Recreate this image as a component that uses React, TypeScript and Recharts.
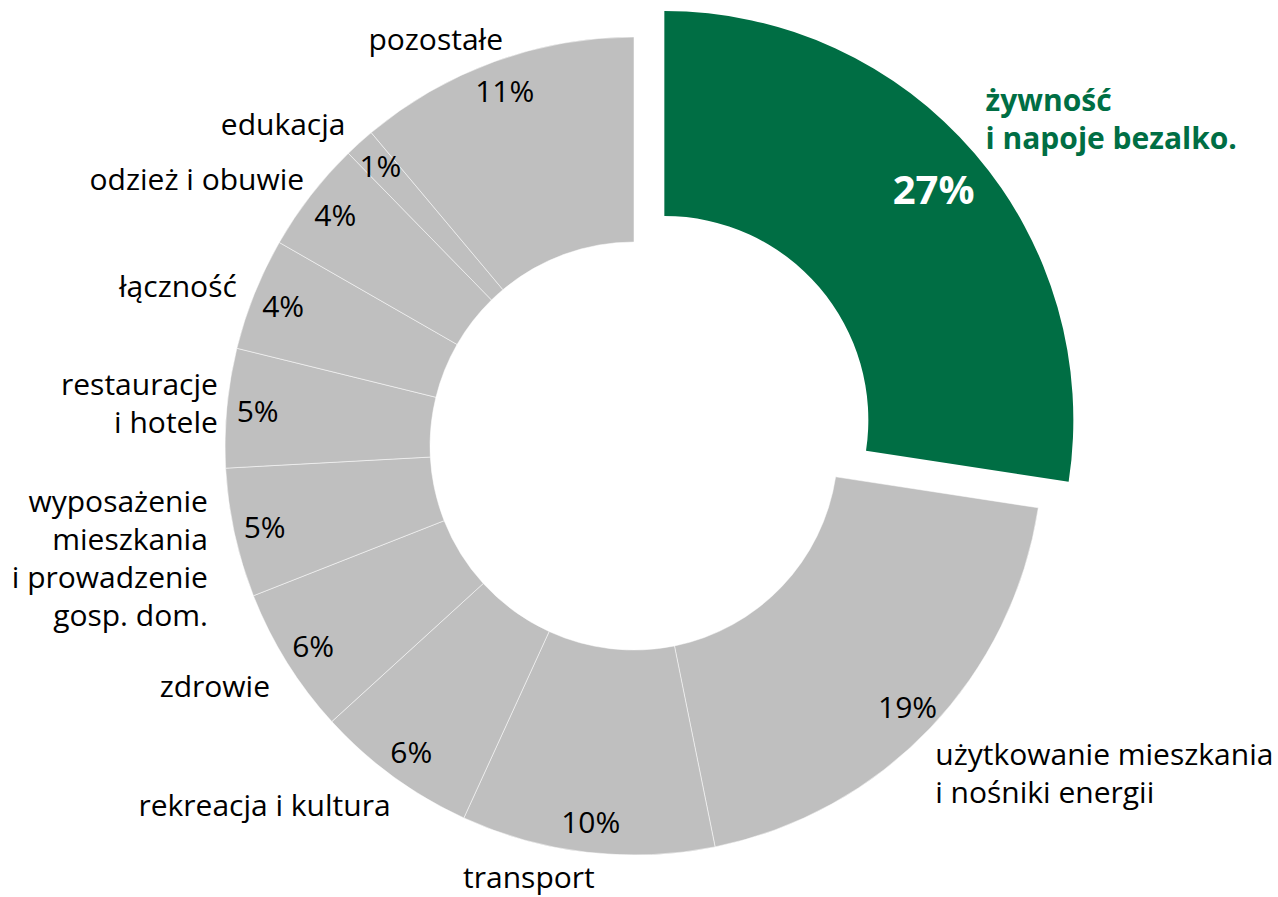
import { PieChart, Pie, Cell } from 'recharts';

// struktura wydatków gospodarstw domowych (udział w %)
const categories = [
  'żywność\ni napoje bezalko.',
  'użytkowanie mieszkania\ni nośniki energii',
  'transport',
  'rekreacja i kultura',
  'zdrowie',
  'wyposażenie\nmieszkania\ni prowadzenie\ngosp. dom.',
  'restauracje\ni hotele',
  'łączność',
  'odzież i obuwie',
  'edukacja',
  'pozostałe',
];
const shares = [27.4, 19.4, 10.0, 6.4, 5.8, 5.1, 4.7, 4.45, 4.4, 1.2, 11.1];

const data = categories.map((name, i) => ({ name, value: shares[i] }));

const GRAY = '#BFBFBF';
const GREEN = '#006E44';
const FONT = '"Open Sans", "Noto Sans", sans-serif';
const RADIAN = Math.PI / 180;

const CX = 634;
const CY = 446;
const INNER = 204;
const OUTER = 409;
const EXPLODE = 40;

// hand nudges for the outside category labels (placed by hand in the source)
const labelNudge: [number, number][] = [
  [-5, -21], [-10, 30], [10, 3], [10, 11], [1, 12], [-6, 20],
  [12, -3], [2, -1], [10, -4], [0, -4], [16, -3],
];

const total = shares.reduce((a, b) => a + b, 0);
const firstMid = 90 - (shares[0] / total) * 180;
const offX = EXPLODE * Math.cos(firstMid * RADIAN);
const offY = -EXPLODE * Math.sin(firstMid * RADIAN);

function polar(cx: number, cy: number, r: number, angle: number) {
  return { x: cx + r * Math.cos(-angle * RADIAN), y: cy + r * Math.sin(-angle * RADIAN) };
}

function makeLabel(highlight: boolean) {
  return (props: any) => {
    const { cx, cy, midAngle, index, value } = props;
    if ((index === 0) !== highlight) return <g key={`l-${index}`} />;
    const pct = polar(cx, cy, highlight ? 355 : 378, midAngle);
    const base = polar(cx, cy, 430, midAngle);
    const [nx, ny] = labelNudge[index];
    const anchor = base.x >= cx ? 'start' : 'end';
    const lines = categories[index].split('\n');
    const lh = 37.8;
    return (
      <g key={`l-${index}`} fontFamily={FONT}>
        <text
          x={pct.x}
          y={pct.y}
          textAnchor="middle"
          dominantBaseline="central"
          fontSize={highlight ? 40 : 30}
          fontWeight={highlight ? 700 : 400}
          fill={highlight ? '#fff' : '#000'}
        >
          {Math.round(value)}%
        </text>
        {lines.map((line, i) => (
          <text
            key={i}
            x={base.x + nx}
            y={base.y + ny + (i - (lines.length - 1) / 2) * lh}
            textAnchor={anchor}
            dominantBaseline="central"
            fontSize={30}
            fontWeight={highlight ? 700 : 400}
            fill={highlight ? GREEN : '#000'}
          >
            {line}
          </text>
        ))}
      </g>
    );
  };
}

export default function App() {
  return (
    <>
      <style>{'body { margin: 0; }'}</style>
      <PieChart width={1278} height={897} margin={{ top: 0, right: 0, bottom: 0, left: 0 }}>
        <Pie
          data={data}
          dataKey="value"
          nameKey="name"
          cx={CX}
          cy={CY}
          innerRadius={INNER}
          outerRadius={OUTER}
          startAngle={90}
          endAngle={-270}
          label={makeLabel(false)}
          labelLine={false}
          isAnimationActive={false}
        >
          {data.map((d, i) => (
            <Cell
              key={d.name}
              fill={i === 0 ? 'none' : GRAY}
              stroke={i === 0 ? 'none' : '#FFFFFF'}
              strokeWidth={0.5}
            />
          ))}
        </Pie>
        <Pie
          data={data}
          dataKey="value"
          nameKey="name"
          cx={CX + offX}
          cy={CY + offY}
          innerRadius={INNER}
          outerRadius={OUTER}
          startAngle={90}
          endAngle={-270}
          label={makeLabel(true)}
          labelLine={false}
          isAnimationActive={false}
        >
          {data.map((d, i) => (
            <Cell key={d.name} fill={i === 0 ? GREEN : 'none'} stroke="none" />
          ))}
        </Pie>
      </PieChart>
    </>
  );
}
